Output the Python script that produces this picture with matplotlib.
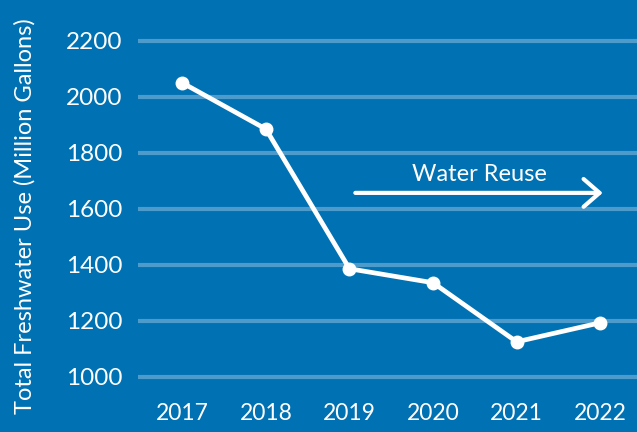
import matplotlib.pyplot as plt

years = [2017, 2018, 2019, 2020, 2021, 2022]
usage = [2050, 1885, 1386, 1336, 1125, 1193]
yticks = [1000, 1200, 1400, 1600, 1800, 2000, 2200]

bg = "#0071b2"
grid = "#4d9bcb"

plt.rcParams["font.family"] = ["Lato", "DejaVu Sans"]

fig = plt.figure(figsize=(6.37, 4.32), dpi=100, facecolor=bg)
ax = fig.add_axes([138 / 637, 37 / 432, 499 / 637, 395 / 432])
ax.set_facecolor(bg)

for y in yticks:
    ax.axhline(y, color=grid, lw=3, zorder=1)

ax.plot(years, usage, color="white", lw=3.4, marker="o", markersize=9, zorder=3)

ax.annotate("", xy=(2022.03, 1657), xytext=(2019.07, 1657),
            arrowprops=dict(arrowstyle="->,head_length=1.15,head_width=1.0",
                            color="white", lw=3, shrinkA=0, shrinkB=0))
ax.text(2020.55, 1722, "Water Reuse", color="white", fontsize=17, ha="center", va="center")

ax.set_xlim(2016.47, 2022.44)
ax.set_ylim(935, 2346)
ax.set_xticks(years)
ax.set_yticks(yticks)
ax.tick_params(colors="white", length=0)
ax.tick_params(axis="y", pad=11, labelsize=17.5)
ax.tick_params(axis="x", pad=6, labelsize=16.5)
for s in ax.spines.values():
    s.set_visible(False)

fig.text(25 / 637, 0.5, "Total Freshwater Use (Million Gallons)", rotation=90,
         color="white", fontsize=17, ha="center", va="center")

fig.savefig("out.png", dpi=100, facecolor=bg)
